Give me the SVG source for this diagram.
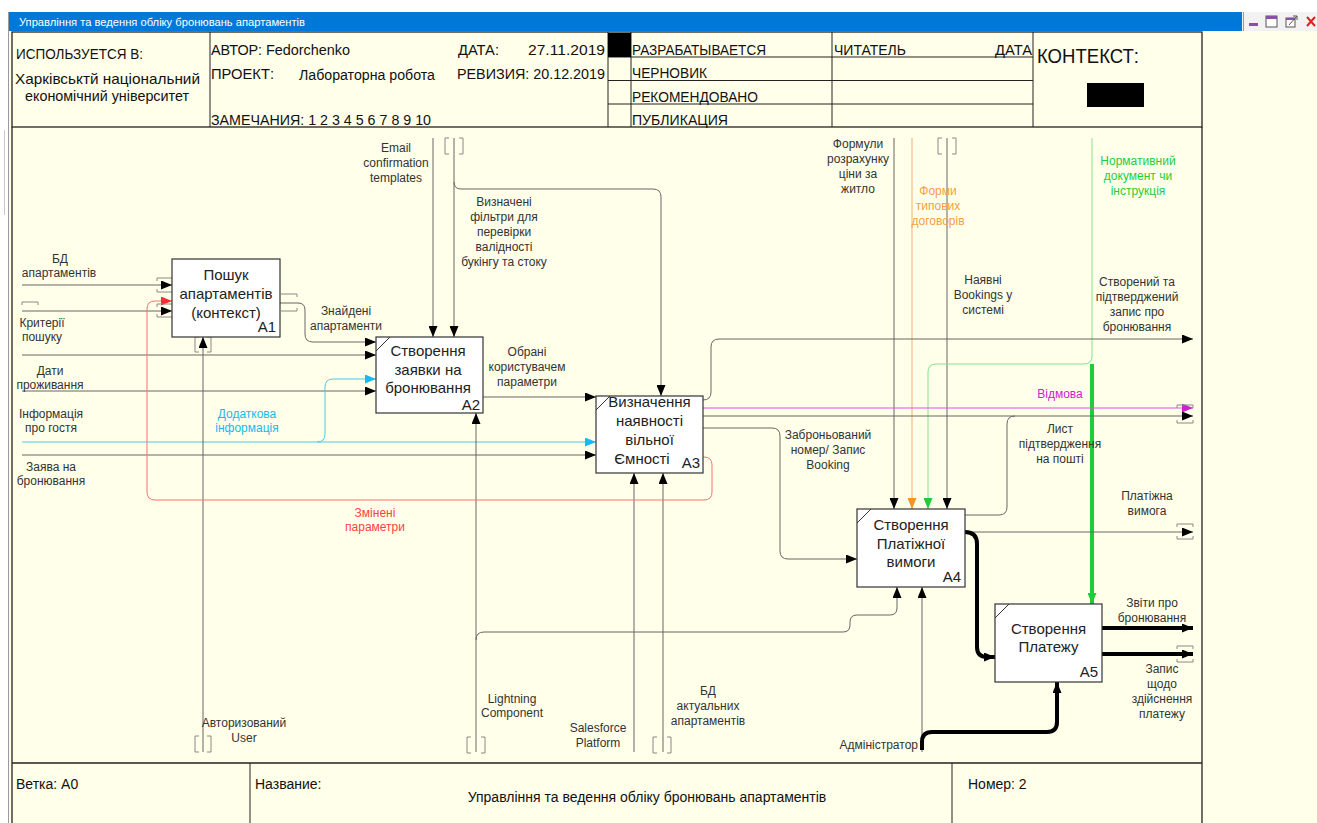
<svg xmlns="http://www.w3.org/2000/svg" width="1317" height="823" viewBox="0 0 1317 823">
  <defs>
    <style>
      .hdr { font-family: "Liberation Sans", Arial, sans-serif; font-size: 14px; fill: #111; }
      .box { fill: #fff; stroke: #333; stroke-width: 1.2; }
      .bt { font-family: "Liberation Sans", Arial, sans-serif; font-size: 15px; fill: #222; text-anchor: middle; }
      .bn { font-family: "Liberation Sans", Arial, sans-serif; font-size: 15px; fill: #222; text-anchor: end; }
      .lb { font-family: "Liberation Sans", Arial, sans-serif; font-size: 12px; fill: #333; text-anchor: middle; }
      .ln { fill: none; stroke: #666; stroke-width: 1; }
      .thk { fill: none; stroke: #000; stroke-width: 4; }
      .br { fill: none; stroke: #888; stroke-width: 1; }
      .frame { fill: none; stroke: #222; stroke-width: 1.3; }
    </style>
    <marker id="aK" markerWidth="12" markerHeight="9" refX="11" refY="4.5" orient="auto" markerUnits="userSpaceOnUse">
      <path d="M0,0 L11,4.5 L0,9 z" fill="#000"/>
    </marker>
    <marker id="aC" markerWidth="12" markerHeight="9" refX="11" refY="4.5" orient="auto" markerUnits="userSpaceOnUse">
      <path d="M0,0 L11,4.5 L0,9 z" fill="#19B8F0"/>
    </marker>
    <marker id="aR" markerWidth="12" markerHeight="9" refX="11" refY="4.5" orient="auto" markerUnits="userSpaceOnUse">
      <path d="M0,0 L11,4.5 L0,9 z" fill="#F03030"/>
    </marker>
    <marker id="aM" markerWidth="12" markerHeight="9" refX="11" refY="4.5" orient="auto" markerUnits="userSpaceOnUse">
      <path d="M0,0 L11,4.5 L0,9 z" fill="#D020D0"/>
    </marker>
    <marker id="aO" markerWidth="12" markerHeight="9" refX="11" refY="4.5" orient="auto" markerUnits="userSpaceOnUse">
      <path d="M0,0 L11,4.5 L0,9 z" fill="#F7931E"/>
    </marker>
    <marker id="aG" markerWidth="12" markerHeight="9" refX="11" refY="4.5" orient="auto" markerUnits="userSpaceOnUse">
      <path d="M0,0 L11,4.5 L0,9 z" fill="#1FCC3A"/>
    </marker>
  </defs>

  <!-- window background -->
  <rect x="0" y="0" width="1317" height="823" fill="#fff"/>
  <rect x="9" y="31" width="1308" height="792" fill="#FFFFEA"/>
  <line x1="8.5" y1="12" x2="8.5" y2="823" stroke="#9a9a9a"/>
  <line x1="4.5" y1="130" x2="4.5" y2="215" stroke="#c8c8c8"/>

  <!-- title bar -->
  <rect x="9" y="12" width="1233" height="19" fill="#0078D7"/>
  <text x="19" y="26" font-family="Liberation Sans, Arial, sans-serif" font-size="11" fill="#fff" textLength="286" lengthAdjust="spacingAndGlyphs">Управління та ведення обліку бронювань апартаментів</text>
  <rect x="1242" y="12" width="75" height="19" fill="#F2F2F2"/>
  <line x1="1243.5" y1="12" x2="1243.5" y2="31" stroke="#9a9a9a"/>
  <rect x="1249" y="23" width="9" height="3" fill="#8a4fa8"/>
  <rect x="1266" y="16" width="11" height="11" fill="#fff" stroke="#555"/>
  <rect x="1266" y="16" width="11" height="3" fill="#8a4fa8"/>
  <rect x="1286" y="18" width="9" height="9" fill="#fff" stroke="#555"/>
  <rect x="1286" y="18" width="9" height="2" fill="#8a4fa8"/>
  <path d="M1289,25 L1297,16 M1293,16 H1297 V20" stroke="#555" fill="none"/>
  <path d="M1307,17 L1315,26 M1315,17 L1307,26" stroke="#E02020" stroke-width="2"/>

  <!-- header block -->
  <g id="header">
    <rect x="12" y="32" width="1190" height="95" fill="#FFFFEA" class="frame"/>
    <line x1="210" y1="32" x2="210" y2="127" stroke="#222"/>
    <line x1="608" y1="32" x2="608" y2="127" stroke="#222"/>
    <line x1="631" y1="32" x2="631" y2="127" stroke="#222"/>
    <line x1="832" y1="32" x2="832" y2="127" stroke="#222"/>
    <line x1="1033" y1="32" x2="1033" y2="127" stroke="#222"/>
    <line x1="608" y1="57" x2="1033" y2="57" stroke="#222"/>
    <line x1="608" y1="80.5" x2="1033" y2="80.5" stroke="#222"/>
    <line x1="608" y1="104" x2="1033" y2="104" stroke="#222"/>
    <rect x="608" y="33" width="23" height="24" fill="#000"/>
    <rect x="1087" y="83" width="57" height="24" fill="#000"/>

    <text class="hdr" x="16" y="59" style="font-size:15px" textLength="127" lengthAdjust="spacingAndGlyphs">ИСПОЛЬЗУЕТСЯ В:</text>
    <text class="hdr" x="15" y="84" style="font-size:15px" textLength="185" lengthAdjust="spacingAndGlyphs">Харківськтй національний</text>
    <text class="hdr" x="25" y="101" style="font-size:15px" textLength="164" lengthAdjust="spacingAndGlyphs">економічний університет</text>
    <text class="hdr" x="211" y="55" textLength="139" lengthAdjust="spacingAndGlyphs">АВТОР: Fedorchenko</text>
    <text class="hdr" x="458" y="55" textLength="41" lengthAdjust="spacingAndGlyphs">ДАТА:</text>
    <text class="hdr" x="528" y="55" textLength="77" lengthAdjust="spacingAndGlyphs">27.11.2019</text>
    <text class="hdr" x="211" y="79" textLength="63" lengthAdjust="spacingAndGlyphs">ПРОЕКТ:</text>
    <text class="hdr" x="299" y="80" textLength="136" lengthAdjust="spacingAndGlyphs">Лабораторна робота</text>
    <text class="hdr" x="457" y="79" textLength="148" lengthAdjust="spacingAndGlyphs">РЕВИЗИЯ: 20.12.2019</text>
    <text class="hdr" x="211" y="125" textLength="220" lengthAdjust="spacingAndGlyphs">ЗАМЕЧАНИЯ: 1 2 3 4 5 6 7 8 9 10</text>
    <text class="hdr" x="632" y="55" textLength="134" lengthAdjust="spacingAndGlyphs">РАЗРАБАТЫВАЕТСЯ</text>
    <text class="hdr" x="632" y="78" textLength="75" lengthAdjust="spacingAndGlyphs">ЧЕРНОВИК</text>
    <text class="hdr" x="632" y="102" textLength="126" lengthAdjust="spacingAndGlyphs">РЕКОМЕНДОВАНО</text>
    <text class="hdr" x="632" y="125" textLength="96" lengthAdjust="spacingAndGlyphs">ПУБЛИКАЦИЯ</text>
    <text class="hdr" x="834" y="55" textLength="72" lengthAdjust="spacingAndGlyphs">ЧИТАТЕЛЬ</text>
    <text class="hdr" x="995" y="55" textLength="37" lengthAdjust="spacingAndGlyphs">ДАТА</text>
    <text class="hdr" x="1037" y="63" style="font-size:21px" textLength="102" lengthAdjust="spacingAndGlyphs">КОНТЕКСТ:</text>
  </g>

  <!-- diagram frame -->
  <line x1="12" y1="127" x2="12" y2="823" stroke="#222" stroke-width="1.3"/>
  <line x1="1202" y1="127" x2="1202" y2="823" stroke="#222" stroke-width="1.3"/>

  <!-- footer -->
  <g id="footer">
    <line x1="12" y1="763" x2="1202" y2="763" stroke="#222" stroke-width="1.3"/>
    <line x1="250" y1="763" x2="250" y2="823" stroke="#222"/>
    <line x1="952" y1="763" x2="952" y2="823" stroke="#222"/>
    <text class="hdr" x="16" y="789">Ветка: A0</text>
    <text class="hdr" x="255" y="789">Название:</text>
    <text class="hdr" x="647" y="802" text-anchor="middle">Управління та ведення обліку бронювань апартаментів</text>
    <text class="hdr" x="968" y="789">Номер: 2</text>
  </g>

  <!-- connectors -->
  <g id="connectors">
    <!-- inputs from the left border -->
    <path class="ln" d="M22,285 H172" marker-end="url(#aK)"/>
    <path class="ln" d="M22,311 H172" marker-end="url(#aK)"/>
    <path class="ln" d="M22,355 H376" marker-end="url(#aK)"/>
    <path class="ln" d="M22,391 H376" marker-end="url(#aK)"/>
    <path class="ln" d="M22,455 H596" marker-end="url(#aK)"/>
    <path fill="none" stroke="#4CC8F0" d="M22,442 H596" marker-end="url(#aC)"/>
    <path fill="none" stroke="#4CC8F0" d="M317,442 Q325,442 325,434 V387 Q325,379 333,379 H376" marker-end="url(#aC)"/>

    <!-- A1 -> A2 -->
    <path class="ln" d="M280,303 H298 Q305,303 305,310 V334 Q305,342 313,342 H376" marker-end="url(#aK)"/>
    <!-- A2 -> A3 -->
    <path class="ln" d="M483,397 H596" marker-end="url(#aK)"/>

    <!-- controls from the top -->
    <path class="ln" stroke="#444" d="M433,138 V337" marker-end="url(#aK)"/>
    <path class="ln" d="M454,138 V337" marker-end="url(#aK)"/>
    <path class="ln" d="M454,182 Q454,189 461,189 H653 Q661,189 661,197 V396" marker-end="url(#aK)"/>
    <path class="ln" stroke="#333" d="M894,138 V509" marker-end="url(#aK)"/>
    <path fill="none" stroke="#F8C99C" stroke-width="1.5" d="M912,138 V509" marker-end="url(#aO)"/>
    <path class="ln" stroke="#999" stroke-width="1.5" d="M947,138 V509" marker-end="url(#aK)"/>
    <path fill="none" stroke="#86E08F" d="M1092,138 V356 Q1092,364 1084,364 H936 Q928,364 928,372 V509" marker-end="url(#aG)"/>
    <path fill="none" stroke="#1FCC3A" stroke-width="4" d="M1092,364 V604" marker-end="url(#aG)"/>

    <!-- mechanisms from the bottom -->
    <path class="ln" d="M203,752 V337" marker-end="url(#aK)"/>
    <path class="ln" d="M476,752 V413" marker-end="url(#aK)"/>
    <path class="ln" d="M476,640 Q476,632 484,632 H843 Q850,632 850,625 V622 Q850,615 857,615 H890 Q897,615 897,608 V587" marker-end="url(#aK)"/>
    <path class="ln" stroke="#444" d="M634,752 V473" marker-end="url(#aK)"/>
    <path class="ln" stroke="#444" d="M663,752 V473" marker-end="url(#aK)"/>
    <path class="ln" d="M922,752 V587" marker-end="url(#aK)"/>
    <path class="thk" d="M922,750 V742 Q922,732 932,732 H1047 Q1057,732 1057,722 V682" marker-end="url(#aK)"/>

    <!-- A3 outputs -->
    <path class="ln" d="M703,400 Q711,400 711,392 V347 Q711,339 719,339 H1193" marker-end="url(#aK)"/>
    <path fill="none" stroke="#E050E0" d="M703,408 H1193" marker-end="url(#aM)"/>
    <path class="ln" d="M703,416 H1193" marker-end="url(#aK)"/>
    <path class="ln" d="M703,428 H772 Q780,428 780,436 V551 Q780,559 788,559 H857" marker-end="url(#aK)"/>
    <path fill="none" stroke="#FF7070" d="M703,457 H704 Q712,457 712,465 V492 Q712,500 704,500 H155 Q147,500 147,492 V309 Q147,301 155,301 H172" marker-end="url(#aR)"/>

    <!-- A4 outputs -->
    <path class="ln" d="M965,515 H999 Q1007,515 1007,507 V424 Q1007,416 1015,416"/>
    <path class="ln" stroke="#999" d="M965,532 H1193" marker-end="url(#aK)"/>
    <path class="thk" d="M965,532 Q977,532 977,544 V647 Q977,657 987,657 H995" marker-end="url(#aK)"/>

    <!-- A5 outputs -->
    <path class="thk" d="M1102,628 H1193" marker-end="url(#aK)"/>
    <path class="thk" d="M1102,654 H1193" marker-end="url(#aK)"/>

    <!-- tunnel brackets -->
    <path class="br" d="M449,138 H445 V154 H449 M459,138 H463 V154 H459"/>
    <path class="br" d="M942,138 H938 V154 H942 M952,138 H956 V154 H952"/>
    <path class="br" d="M199,337 H195 V352 H199 M207,337 H211 V352 H207"/>
    <path class="br" d="M199,736 H195 V752 H199 M207,736 H211 V752 H207"/>
    <path class="br" d="M471,737 H467 V753 H471 M481,737 H485 V753 H481"/>
    <path class="br" d="M657,737 H653 V753 H657 M667,737 H671 V753 H667"/>
    <path class="br" d="M157,281 V278 H172 M157,289 V292 H172 M157,307 V304 H172 M157,314 V317 H172"/>
    <path class="br" d="M22,305 V302 H38 V305"/>
    <path class="br" d="M281,294 H297 V297 M281,311 H297 V308"/>
    <path class="br" d="M1177,408 V405 H1193 V408 M1177,420 V423 H1193 V420"/>
    <path class="br" d="M1177,527 V524 H1193 V527 M1177,536 V539 H1193 V536"/>
    <path class="br" d="M1177,649 V646 H1193 V649 M1177,659 V662 H1193 V659"/>
  </g>

  <!-- activity boxes -->
  <g id="A1">
    <rect class="box" x="172" y="259" width="108" height="78"/>
    <text class="bt" x="226" y="280">Пошук</text>
    <text class="bt" x="226" y="299">апартаментів</text>
    <text class="bt" x="226" y="318">(контекст)</text>
    <text class="bn" x="276" y="332">A1</text>
  </g>
  <g id="A2">
    <rect class="box" x="376" y="337" width="107" height="76"/>
    <line x1="376" y1="351" x2="390" y2="337" stroke="#333"/>
    <text class="bt" x="428" y="356">Створення</text>
    <text class="bt" x="428" y="375">заявки на</text>
    <text class="bt" x="428" y="393">бронювання</text>
    <text class="bn" x="480" y="410">A2</text>
  </g>
  <g id="A3">
    <rect class="box" x="596" y="396" width="107" height="77"/>
    <line x1="596" y1="410" x2="610" y2="396" stroke="#333"/>
    <text class="bt" x="649.5" y="407">Визначення</text>
    <text class="bt" x="649.5" y="426">наявності</text>
    <text class="bt" x="649.5" y="445">вільної</text>
    <text class="bt" x="642" y="464">Ємності</text>
    <text class="bn" x="700" y="468">A3</text>
  </g>
  <g id="A4">
    <rect class="box" x="857" y="509" width="108" height="78"/>
    <line x1="857" y1="523" x2="871" y2="509" stroke="#333"/>
    <text class="bt" x="911" y="530">Створення</text>
    <text class="bt" x="911" y="549">Платіжної</text>
    <text class="bt" x="911" y="567">вимоги</text>
    <text class="bn" x="961" y="582">A4</text>
  </g>
  <g id="A5">
    <rect class="box" x="995" y="604" width="107" height="78"/>
    <line x1="995" y1="618" x2="1009" y2="604" stroke="#333"/>
    <text class="bt" x="1048.5" y="634">Створення</text>
    <text class="bt" x="1048.5" y="652">Платежу</text>
    <text class="bn" x="1098" y="677">A5</text>
  </g>

  <!-- arrow labels -->
  <g id="labels">
    <text class="lb" x="60" y="263">БД</text>
    <text class="lb" x="59" y="277">апартаментів</text>
    <text class="lb" x="42" y="327">Критерії</text>
    <text class="lb" x="42" y="341">пошуку</text>
    <text class="lb" x="50" y="375">Дати</text>
    <text class="lb" x="50" y="389">проживання</text>
    <text class="lb" x="51" y="418">Інформація</text>
    <text class="lb" x="51" y="432">про гостя</text>
    <text class="lb" x="247" y="418" style="fill:#19B8F0">Додаткова</text>
    <text class="lb" x="247" y="432" style="fill:#19B8F0">інформація</text>
    <text class="lb" x="51" y="471">Заява на</text>
    <text class="lb" x="51" y="485">бронювання</text>
    <text class="lb" x="346" y="315">Знайдені</text>
    <text class="lb" x="346" y="330">апартаменти</text>
    <text class="lb" x="396" y="152">Email</text>
    <text class="lb" x="396" y="167">confirmation</text>
    <text class="lb" x="396" y="182">templates</text>
    <text class="lb" x="504" y="206">Визначені</text>
    <text class="lb" x="504" y="221">фільтри для</text>
    <text class="lb" x="504" y="236">перевірки</text>
    <text class="lb" x="504" y="251">валідності</text>
    <text class="lb" x="504" y="266">букінгу та стоку</text>
    <text class="lb" x="527" y="356">Обрані</text>
    <text class="lb" x="527" y="371">користувачем</text>
    <text class="lb" x="527" y="386">параметри</text>
    <text class="lb" x="375" y="517" style="fill:#FF4040">Змінені</text>
    <text class="lb" x="375" y="531" style="fill:#FF4040">параметри</text>
    <text class="lb" x="858" y="148">Формули</text>
    <text class="lb" x="858" y="163">розрахунку</text>
    <text class="lb" x="858" y="178">ціни за</text>
    <text class="lb" x="858" y="193">житло</text>
    <text class="lb" x="938" y="195" style="fill:#F7A040">Форми</text>
    <text class="lb" x="938" y="210" style="fill:#F7A040">типових</text>
    <text class="lb" x="938" y="225" style="fill:#F7A040">договорів</text>
    <text class="lb" x="1138" y="165" style="fill:#1FCC3A">Нормативний</text>
    <text class="lb" x="1138" y="180" style="fill:#1FCC3A">документ чи</text>
    <text class="lb" x="1138" y="195" style="fill:#1FCC3A">інструкція</text>
    <text class="lb" x="983" y="284">Наявні</text>
    <text class="lb" x="983" y="299">Bookings у</text>
    <text class="lb" x="983" y="314">системі</text>
    <text class="lb" x="1137" y="286">Створений та</text>
    <text class="lb" x="1137" y="301">підтверджений</text>
    <text class="lb" x="1137" y="316">запис про</text>
    <text class="lb" x="1137" y="331">бронювання</text>
    <text class="lb" x="1060" y="398" style="fill:#D020D0">Відмова</text>
    <text class="lb" x="828" y="439">Заброньований</text>
    <text class="lb" x="828" y="454">номер/ Запис</text>
    <text class="lb" x="828" y="469">Booking</text>
    <text class="lb" x="1060" y="433">Лист</text>
    <text class="lb" x="1060" y="448">підтвердження</text>
    <text class="lb" x="1060" y="463">на пошті</text>
    <text class="lb" x="1147" y="500">Платіжна</text>
    <text class="lb" x="1147" y="515">вимога</text>
    <text class="lb" x="1152" y="607">Звіти про</text>
    <text class="lb" x="1152" y="622">бронювання</text>
    <text class="lb" x="1162" y="673">Запис</text>
    <text class="lb" x="1162" y="688">щодо</text>
    <text class="lb" x="1162" y="703">здійснення</text>
    <text class="lb" x="1162" y="718">платежу</text>
    <text class="lb" x="918" y="749" style="text-anchor:end">Адміністратор</text>
    <text class="lb" x="244" y="727">Авторизований</text>
    <text class="lb" x="244" y="742">User</text>
    <text class="lb" x="512" y="703">Lightning</text>
    <text class="lb" x="512" y="717">Component</text>
    <text class="lb" x="598" y="732">Salesforce</text>
    <text class="lb" x="598" y="747">Platform</text>
    <text class="lb" x="708" y="695">БД</text>
    <text class="lb" x="708" y="710">актуальних</text>
    <text class="lb" x="708" y="725">апартаментів</text>
  </g>
</svg>
